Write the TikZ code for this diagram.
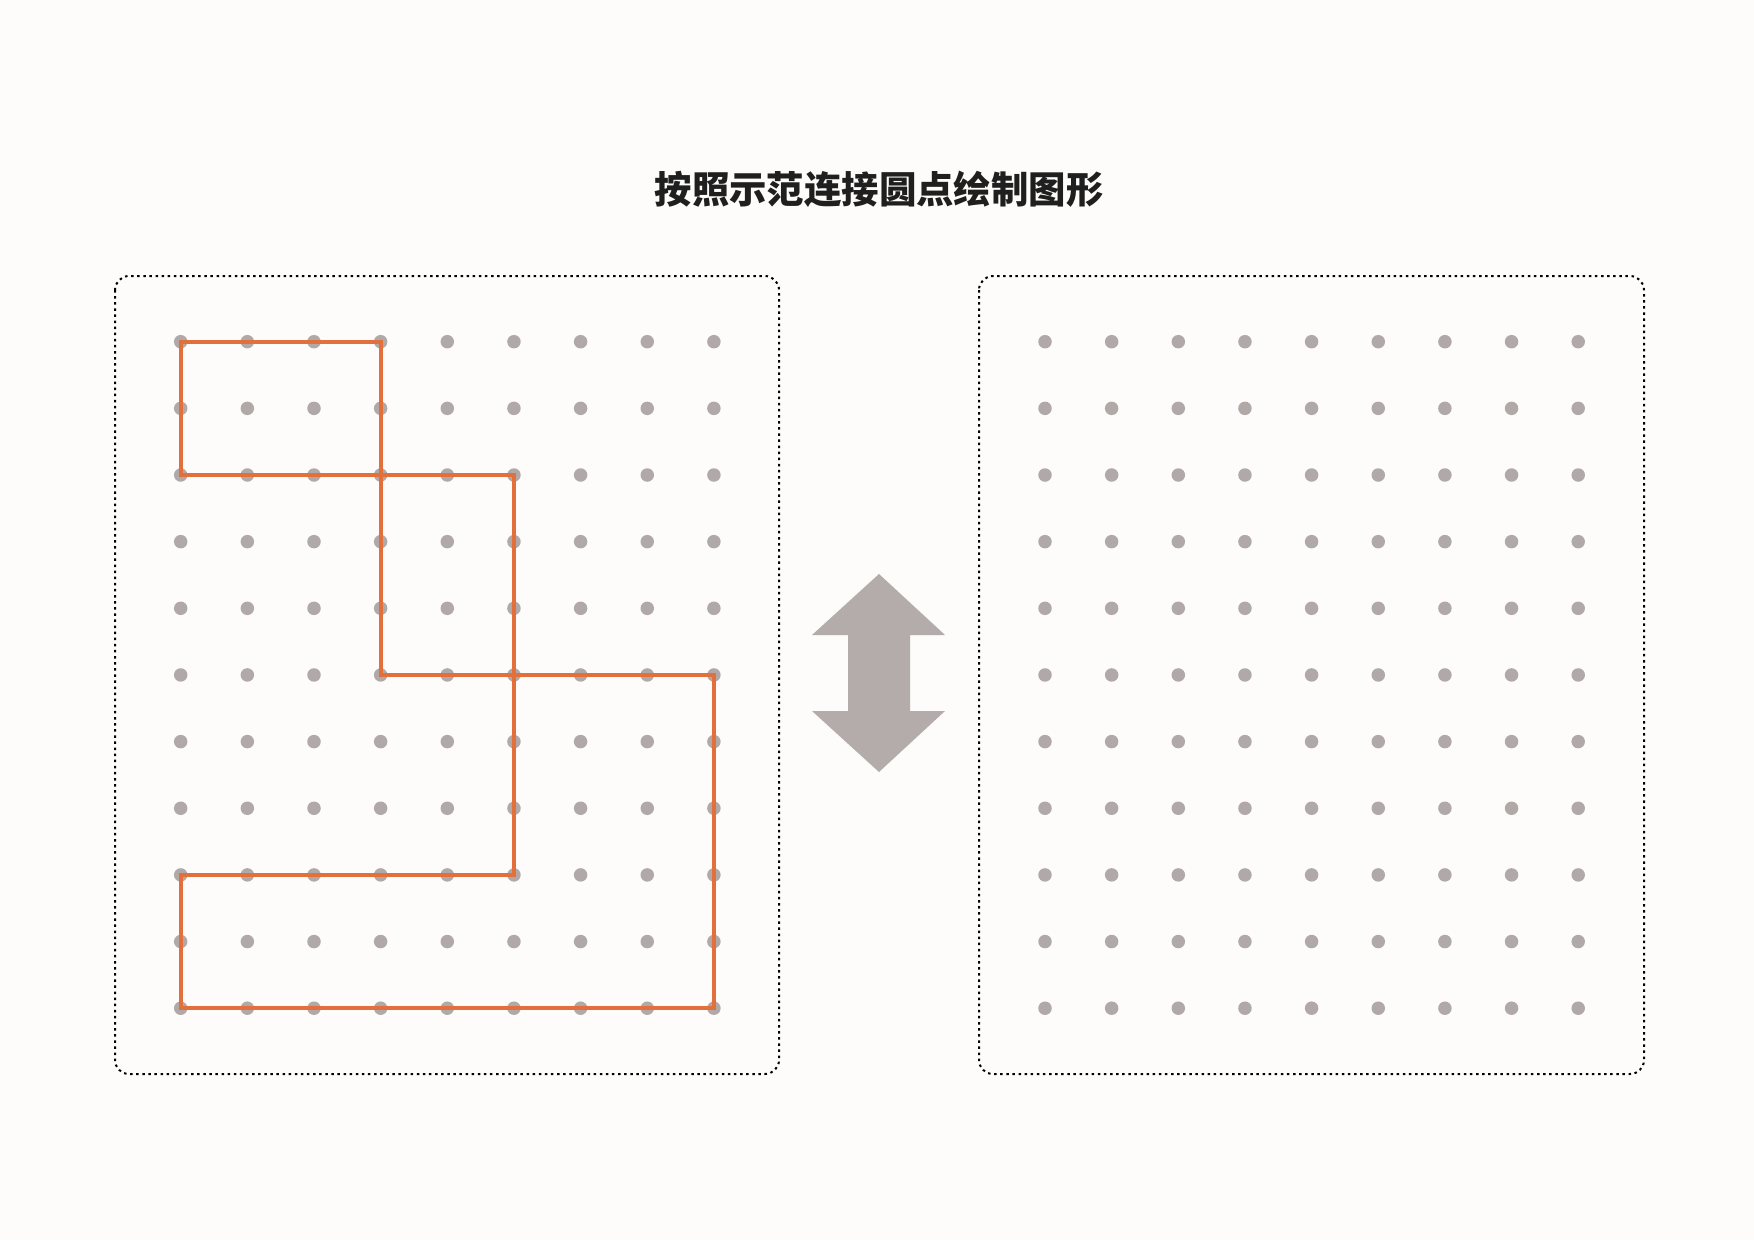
\documentclass[tikz,border=0pt]{standalone}
\usepackage{fontspec}
\newfontfamily\cjk{Noto Sans CJK SC}
\definecolor{bg}{HTML}{FDFCFA}
\definecolor{dotgray}{HTML}{B1A9A8}
\definecolor{arrowgray}{HTML}{B3ACAA}
\definecolor{lineorange}{HTML}{E2703D}
\tikzset{
  dotnode/.style={circle,fill=dotgray,inner sep=0pt,minimum size=13.5pt},
  panel/.style={draw=black,line width=2pt,dash pattern=on 2.5pt off 3.6pt,rounded corners=14pt},
  shapeline/.style={draw=lineorange,line width=3.8pt,line join=miter},
}
\begin{document}
\begin{tikzpicture}[x=1pt,y=-1pt]
\useasboundingbox (0,0) rectangle (1754,1240);
\fill[bg] (0,0) rectangle (1754,1240);
% title
\node[font=\cjk\bfseries\fontsize{37.4}{44}\selectfont,text=black!88] (title) at (879,189) {按照示范连接圆点绘制图形};
% panels
\draw[panel] (115,276) rectangle (779,1074);
\draw[panel] (979,276) rectangle (1644,1074);
% dots
\foreach \i in {0,...,8}{
  \foreach \j in {0,...,10}{
    \node[dotnode] (L-\i-\j) at ({180.7+66.65*\i},{341.7+66.65*\j}) {};
    \node[dotnode] (R-\i-\j) at ({1045+66.65*\i},{341.7+66.65*\j}) {};
  }
}
% orange figure
\draw[shapeline] (L-0-0.center) -- (L-3-0.center) -- (L-3-2.center) -- (L-0-2.center) -- cycle;
\draw[shapeline] (L-3-2.center) -- (L-5-2.center) -- (L-5-5.center) -- (L-3-5.center) -- cycle;
\draw[shapeline] (L-5-5.center) -- (L-8-5.center) -- (L-8-10.center) -- (L-0-10.center) -- (L-0-8.center) -- (L-5-8.center) -- cycle;
% double arrow
\fill[arrowgray] (879,574) -- (945,635) -- (910,635) -- (910,711) -- (945,711) -- (879,772) -- (812,711) -- (848,711) -- (848,635) -- (812,635) -- cycle;
\end{tikzpicture}
\end{document}
